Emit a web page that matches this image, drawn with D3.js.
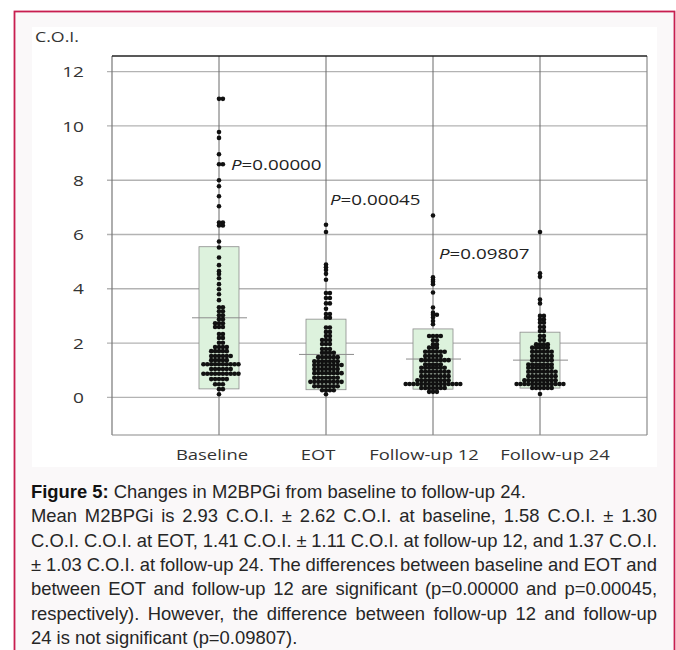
<!DOCTYPE html>
<html>
<head>
<meta charset="utf-8">
<script src="https://cdn.jsdelivr.net/npm/d3@7"></script>
<style>
  body { margin: 0; background: #fff; }
  svg { display: block; }
</style>
</head>
<body>
<svg id="fig" width="676" height="650"></svg>
<script>
// ---- data ----
const categories = ["Baseline", "EOT", "Follow-up 12", "Follow-up 24"];
const means = [2.93, 1.58, 1.41, 1.37];
const sds = [2.62, 1.30, 1.11, 1.03];
const yTicks = [0, 2, 4, 6, 8, 10, 12];

// dot rows per group: [value, number of patients in the row]
const baselineDots = [[11.0,2],[9.78,1],[9.56,1],[8.96,1],[8.59,2],[8.0,1],[7.78,1],[7.41,1],[7.04,1],
  [6.44,2],[6.33,2],[5.74,1],[5.52,1],[5.15,1],[4.87,1],[4.65,1],[4.54,1],[4.39,1],[4.17,1],[3.98,1],
  [3.80,1],[3.58,1],[3.32,2],[3.17,2],[3.02,2],[2.88,2],[2.73,3],[2.59,3],[2.33,2],[2.19,2],[2.01,2],
  [1.85,4],[1.70,5],[1.52,6],[1.37,5],[1.22,10],[1.04,6],[0.87,10],[0.67,5],[0.48,3],[0.30,2],[0.11,1]];
const eotDots = [[6.36,1],[6.09,1],[4.89,1],[4.79,1],[4.69,1],[4.55,1],[4.33,1],[3.84,2],[3.66,2],
  [3.46,2],[3.26,1],[3.07,2],[2.93,2],[2.57,2],[2.41,2],[2.26,2],[2.11,3],[1.96,3],[1.78,3],[1.64,4],
  [1.48,6],[1.33,7],[1.19,8],[1.04,7],[0.89,8],[0.72,7],[0.57,9],[0.41,7],[0.26,4],[0.11,1]];
const fu12Dots = [[6.70,1],[4.42,1],[4.33,1],[4.26,1],[4.17,1],[3.86,1],[3.31,1],[3.12,1],[3.04,2],
  [2.94,1],[2.81,1],[2.69,1],[2.26,4],[2.10,2],[1.95,2],[1.83,3],[1.68,6],[1.52,5],[1.37,8],[1.21,5],
  [1.09,7],[0.94,8],[0.78,8],[0.63,9],[0.49,15],[0.34,7],[0.20,3]];
const fu24Dots = [[6.09,1],[4.57,1],[4.44,1],[3.60,1],[3.46,1],[3.00,2],[2.87,2],[2.75,2],[2.59,2],
  [2.44,2],[2.26,2],[2.11,2],[1.95,4],[1.83,5],[1.68,6],[1.52,6],[1.37,6],[1.21,7],[1.09,7],[0.94,8],
  [0.78,8],[0.63,9],[0.49,13],[0.34,6],[0.12,1]];
const groupDots = [baselineDots, eotDots, fu12Dots, fu24Dots];

// p-value annotations
const pTexts = ["0.00000", "0.00045", "0.09807"];
const pCats = ["Baseline", "EOT", "Follow-up 12"];
const pValues = [8.62, 7.3, 5.31];

const captionLines = [
  "Changes in M2BPGi from baseline to follow-up 24.",
  "Mean M2BPGi is 2.93 C.O.I. ± 2.62 C.O.I. at baseline, 1.58 C.O.I. ± 1.30",
  "C.O.I. C.O.I. at EOT, 1.41 C.O.I. ± 1.11 C.O.I. at follow-up 12, and 1.37 C.O.I.",
  "± 1.03 C.O.I. at follow-up 24. The differences between baseline and EOT and",
  "between EOT and follow-up 12 are significant (p=0.00000 and p=0.00045,",
  "respectively). However, the difference between follow-up 12 and follow-up",
  "24 is not significant (p=0.09807)."
];

const svg = d3.select("#fig");
const chartFont = "'Open Sans', 'Noto Sans', sans-serif";
const stretch = 1.27; // the chart image is stretched sideways

// frame
svg.append("rect")
  .attr("x", 14.5).attr("y", 11.5)
  .attr("width", 660).attr("height", 700)
  .attr("fill", "#faf8f9")
  .attr("stroke", "#c81e50")
  .attr("stroke-width", 1.8);

svg.append("rect")
  .attr("x", 32).attr("y", 27)
  .attr("width", 625).attr("height", 440)
  .attr("fill", "#fff");

const plotLeft = 112, plotRight = 647, plotTop = 56, plotBottom = 435;

const x = d3.scalePoint()
  .domain(categories)
  .range([plotLeft, plotRight])
  .padding(1);

const y = d3.scaleLinear()
  .domain([0, 12])
  .range([397.3, 71.7]);

// horizontal gridlines
svg.selectAll(".grid")
  .data(yTicks)
  .enter()
  .append("line")
  .attr("class", "grid")
  .attr("x1", plotLeft - 5).attr("x2", plotRight)
  .attr("y1", d => y(d)).attr("y2", d => y(d))
  .attr("stroke", "#b3b3b3")
  .attr("stroke-width", 1.3);

// category lines
svg.selectAll(".catline")
  .data(categories)
  .enter()
  .append("line")
  .attr("class", "catline")
  .attr("x1", d => x(d)).attr("x2", d => x(d))
  .attr("y1", plotTop).attr("y2", plotBottom)
  .attr("stroke", "#6a6a6a")
  .attr("stroke-width", 1);

// plot box
svg.append("line").attr("x1", plotLeft).attr("x2", plotLeft).attr("y1", plotTop).attr("y2", plotBottom)
  .attr("stroke", "#777").attr("stroke-width", 1.2);
svg.append("line").attr("x1", plotRight).attr("x2", plotRight).attr("y1", plotTop).attr("y2", plotBottom)
  .attr("stroke", "#8a8a8a").attr("stroke-width", 1.2);
svg.append("line").attr("x1", plotLeft).attr("x2", plotRight).attr("y1", plotBottom).attr("y2", plotBottom)
  .attr("stroke", "#8a8a8a").attr("stroke-width", 1.2);
svg.append("line").attr("x1", plotLeft).attr("x2", plotRight).attr("y1", plotTop).attr("y2", plotTop)
  .attr("stroke", "#222").attr("stroke-width", 1.5);

// mean ± SD bars
svg.selectAll(".bar")
  .data(categories)
  .enter()
  .append("rect")
  .attr("class", "bar")
  .attr("x", d => x(d) - 20)
  .attr("width", 40)
  .attr("y", (d, i) => y(means[i] + sds[i]))
  .attr("height", (d, i) => y(means[i] - sds[i]) - y(means[i] + sds[i]))
  .attr("fill", "#ddf2dd")
  .attr("stroke", "#8c8c8c")
  .attr("stroke-width", 0.8);

// mean lines
svg.selectAll(".mean")
  .data(categories)
  .enter()
  .append("line")
  .attr("class", "mean")
  .attr("x1", d => x(d) - 27).attr("x2", d => x(d) + 28)
  .attr("y1", (d, i) => y(means[i])).attr("y2", (d, i) => y(means[i]))
  .attr("stroke", "#8c8c8c")
  .attr("stroke-width", 1);

// dots: centre, right, left, right, left ...
const dotStep = 3.9;
const dots = [];
groupDots.forEach((rows, g) => {
  rows.forEach(([v, n]) => {
    for (let i = 0; i < n; i++) {
      const k = i === 0 ? 0 : (i % 2 === 1 ? (i + 1) / 2 : -i / 2);
      dots.push({ cat: categories[g], v: v, k: k });
    }
  });
});

svg.selectAll(".dot")
  .data(dots)
  .enter()
  .append("circle")
  .attr("class", "dot")
  .attr("cx", d => x(d.cat) + d.k * dotStep)
  .attr("cy", d => y(d.v))
  .attr("r", 2.3)
  .attr("fill", "#111");

// y tick labels
svg.selectAll(".ytick")
  .data(yTicks)
  .enter()
  .append("text")
  .attr("class", "ytick")
  .attr("transform", d => `translate(84,${y(d)}) scale(${stretch},1)`)
  .attr("text-anchor", "end")
  .attr("dominant-baseline", "central")
  .attr("font-family", chartFont)
  .attr("font-size", 15)
  .attr("fill", "#333")
  .text(d => d);

// axis unit
svg.append("text")
  .attr("transform", `translate(35,37) scale(${stretch},1)`)
  .attr("dominant-baseline", "central")
  .attr("font-family", chartFont)
  .attr("font-size", 14)
  .attr("fill", "#333")
  .text("C.O.I.");

// category labels
const labelShift = [-7, -8, -9, 15];
svg.selectAll(".xlabel")
  .data(categories)
  .enter()
  .append("text")
  .attr("class", "xlabel")
  .attr("transform", (d, i) => `translate(${x(d) + labelShift[i]},454) scale(${stretch},1)`)
  .attr("text-anchor", "middle")
  .attr("dominant-baseline", "central")
  .attr("font-family", chartFont)
  .attr("font-size", 14.5)
  .attr("fill", "#333")
  .text(d => d);

// p-value labels
const pShift = [12, 4, 6];
pTexts.forEach((t, i) => {
  const lab = svg.append("text")
    .attr("transform", `translate(${x(pCats[i]) + pShift[i]},${y(pValues[i])}) scale(1.25,1)`)
    .attr("dominant-baseline", "central")
    .attr("font-family", chartFont)
    .attr("font-size", 15)
    .attr("fill", "#222");
  lab.append("tspan").attr("font-style", "italic").text("P");
  lab.append("tspan").text("=" + t);
});

// caption
const capFont = "'Liberation Sans', Arial, sans-serif";
const capSize = 18.4;
const capLeft = 31, capRight = 657, capTop = 498, capStep = 24.3;

captionLines.forEach((line, i) => {
  const yy = capTop + i * capStep;
  const t = svg.append("text")
    .attr("x", capLeft).attr("y", yy)
    .attr("font-family", capFont)
    .attr("font-size", capSize)
    .attr("fill", "#262626");

  if (i === 0) {
    t.append("tspan").attr("font-weight", "bold").attr("fill", "#111").text("Figure 5:");
    t.append("tspan").text(" " + line);
    return;
  }
  if (i === captionLines.length - 1) {
    t.text(line);
    return;
  }
  // justified line: place each word
  const words = line.split(" ");
  const widths = words.map(w => {
    const tmp = svg.append("text").attr("font-family", capFont).attr("font-size", capSize).text(w);
    const wd = tmp.node().getComputedTextLength();
    tmp.remove();
    return wd;
  });
  const gap = (capRight - capLeft - d3.sum(widths)) / (words.length - 1);
  let cx = capLeft;
  words.forEach((w, j) => {
    t.append("tspan").attr("x", cx).attr("y", yy).text(w);
    cx += widths[j] + gap;
  });
});
</script>
</body>
</html>
